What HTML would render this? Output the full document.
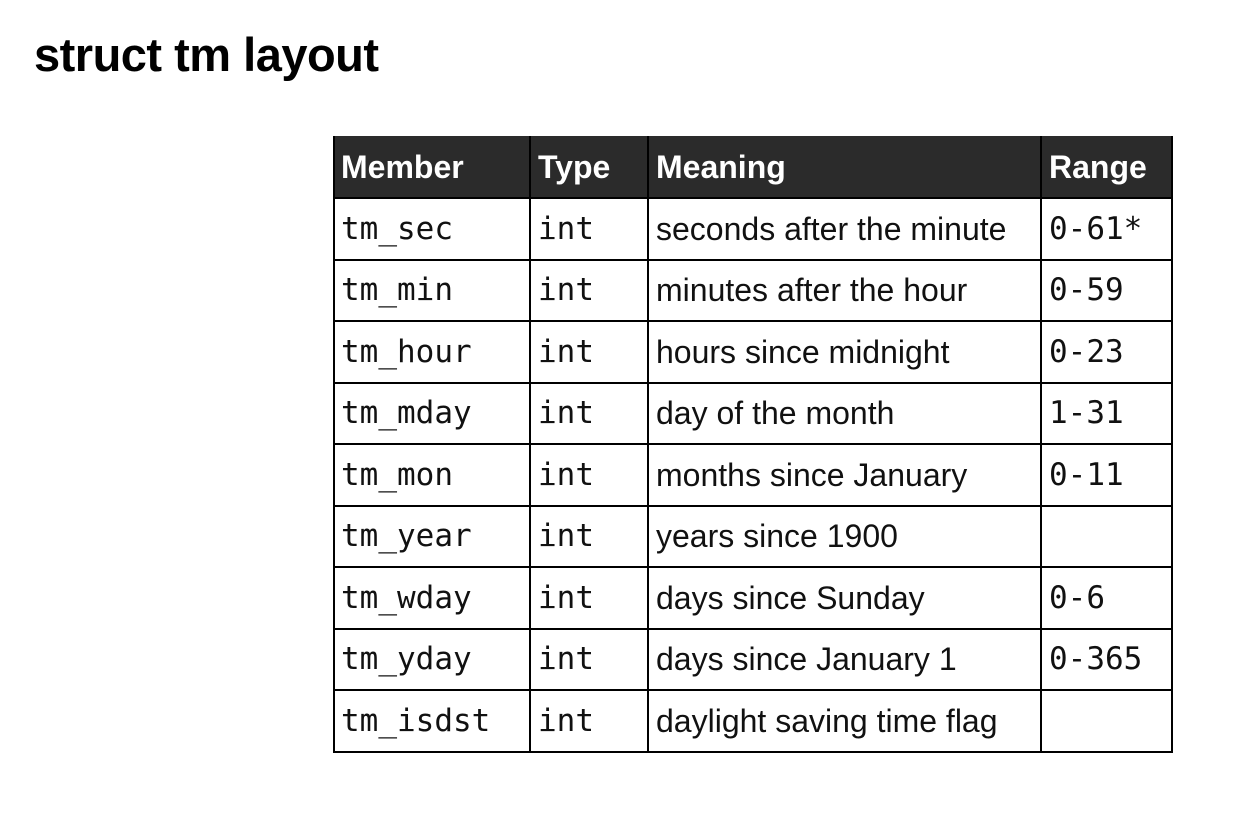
<!DOCTYPE html>
<html><head><meta charset="utf-8"><style>
body{margin:0;width:1253px;height:814px;background:#fff;position:relative;overflow:hidden;font-family:"Liberation Sans",sans-serif;}
h1{position:absolute;left:34px;top:27px;margin:0;font-size:47px;font-weight:bold;color:#000;letter-spacing:-0.5px;}
.c{position:absolute;box-sizing:border-box;display:flex;align-items:center;padding-left:8px;font-size:32px;color:#111;white-space:nowrap;padding-top:1px;}
.m{font-family:"DejaVu Sans Mono","Liberation Mono",monospace;font-size:31px;padding-top:0;}
.h{color:#fff;font-weight:bold;font-size:32px;}
.hl{position:absolute;height:2px;background:#000;left:333px;width:840px;}
.vl{position:absolute;width:2px;background:#000;top:136px;height:617px;}
</style></head><body>
<h1>struct tm layout</h1>
<div style="position:absolute;left:333px;top:136px;width:840px;height:62px;background:#2b2b2b"></div>
<div class="c h" style="left:333px;top:136px;height:62px">Member</div>
<div class="c h" style="left:530px;top:136px;height:62px">Type</div>
<div class="c h" style="left:648px;top:136px;height:62px">Meaning</div>
<div class="c h" style="left:1041px;top:136px;height:62px">Range</div>
<div id="rows"></div>
<div class="vl" style="left:333px"></div>
<div class="vl" style="left:529px"></div>
<div class="vl" style="left:647px"></div>
<div class="vl" style="left:1040px"></div>
<div class="vl" style="left:1171px"></div>
<script>
var d=[["tm_sec","seconds after the minute","0-61*"],["tm_min","minutes after the hour","0-59"],["tm_hour","hours since midnight","0-23"],["tm_mday","day of the month","1-31"],["tm_mon","months since January","0-11"],["tm_year","years since 1900",""],["tm_wday","days since Sunday","0-6"],["tm_yday","days since January 1","0-365"],["tm_isdst","daylight saving time flag",""]];
var h='';
for(var i=0;i<d.length;i++){var t=198+i*61.5;
h+='<div class="hl" style="top:'+(t-1)+'px"></div>';
h+='<div class="c m" style="left:333px;top:'+t+'px;height:61px">'+d[i][0]+'</div>';
h+='<div class="c m" style="left:530px;top:'+t+'px;height:61px">int</div>';
h+='<div class="c" style="left:648px;top:'+t+'px;height:61px">'+d[i][1]+'</div>';
h+='<div class="c m" style="left:1041px;top:'+t+'px;height:61px">'+d[i][2]+'</div>';}
h+='<div class="hl" style="top:751px"></div>';
document.getElementById('rows').innerHTML=h;
</script>
</body></html>
